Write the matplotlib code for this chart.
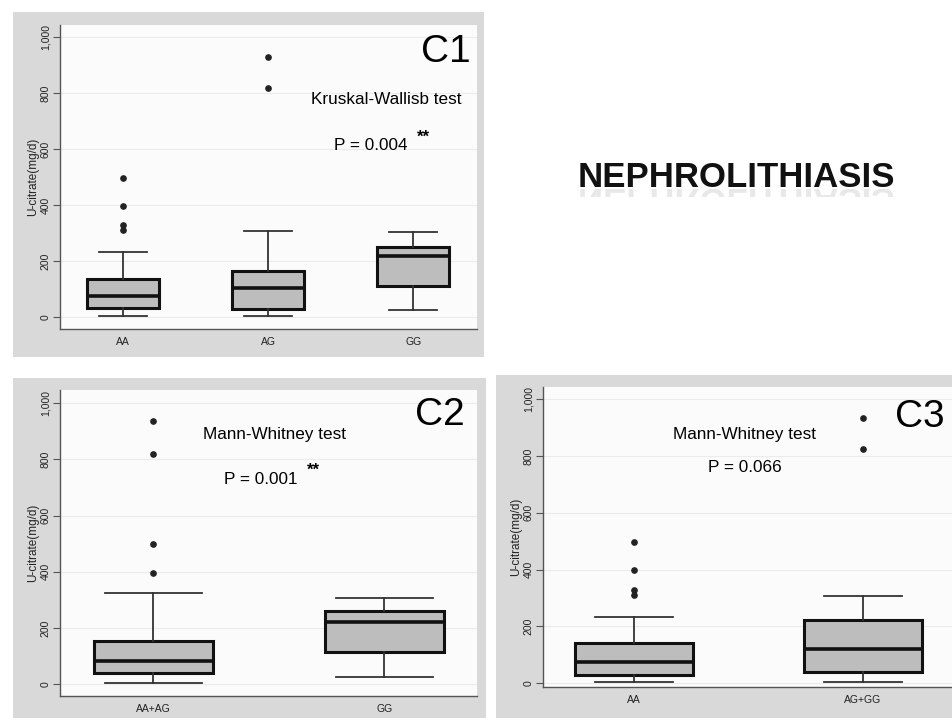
import matplotlib
matplotlib.use('Agg')
import matplotlib.pyplot as plt
from matplotlib.patches import Rectangle, PathPatch
from matplotlib.textpath import TextPath
from matplotlib.font_manager import FontProperties
from matplotlib.transforms import Affine2D

plt.rcParams['font.family'] = ['Liberation Sans', 'DejaVu Sans']

# ---------------- data ----------------
c1_groups = ['AA', 'AG', 'GG']
c1_q1 = [32, 29, 112]
c1_med = [74, 102, 217]
c1_q3 = [136, 165, 250]
c1_lo = [2, 2, 26]
c1_hi = [232, 306, 303]
c1_fliers = [[496, 395, 328, 312], [928, 818], []]

c2_groups = ['AA+AG', 'GG']
c2_q1 = [39, 113]
c2_med = [83, 221]
c2_q3 = [154, 259]
c2_lo = [4, 27]
c2_hi = [326, 305]
c2_fliers = [[935, 818, 498, 397], []]

c3_groups = ['AA', 'AG+GG']
c3_q1 = [29, 41]
c3_med = [74, 120]
c3_q3 = [141, 223]
c3_lo = [4, 4]
c3_hi = [235, 308]
c3_fliers = [[498, 399, 329, 311], [933, 823]]

y_ticks = [0, 200, 400, 600, 800, 1000]
y_ticklabels = ['0', '200', '400', '600', '800', '1,000']
y_label = 'U-citrate(mg/d)'

# ---------------- figure ----------------
W, H = 953, 718
fig = plt.figure(figsize=(W / 100, H / 100), dpi=100)
fig.patch.set_facecolor('white')

bg = fig.add_axes([0, 0, 1, 1], zorder=0)
bg.set_xlim(0, W)
bg.set_ylim(H, 0)
bg.axis('off')

# gray panel frames (pixel coords)
for (x0, y0, x1, y1) in [(13, 12, 484, 357), (13, 378, 486, 718), (496, 375, 953, 718)]:
    bg.add_patch(Rectangle((x0, y0), x1 - x0, y1 - y0, facecolor='#d9d9d9',
                           edgecolor='none'))


def px_axes(x0, y0, x1, y1):
    return fig.add_axes([x0 / W, 1 - y1 / H, (x1 - x0) / W, (y1 - y0) / H], zorder=2)


def draw_panel(rect, groups, q1, med, q3, lo, hi, fliers, xlim, ylim, width, capw):
    ax = px_axes(*rect)
    ax.set_facecolor('#fbfbfb')
    stats = []
    for i, g in enumerate(groups):
        stats.append(dict(label=g, q1=q1[i], med=med[i], q3=q3[i],
                          whislo=lo[i], whishi=hi[i], fliers=fliers[i]))
    ax.bxp(stats, positions=list(range(1, len(groups) + 1)), widths=width,
           capwidths=capw, patch_artist=True,
           boxprops=dict(facecolor='#bdbdbd', edgecolor='#111111', linewidth=2.2),
           medianprops=dict(color='#111111', linewidth=2.6),
           whiskerprops=dict(color='#333333', linewidth=1.3),
           capprops=dict(color='#333333', linewidth=1.3),
           flierprops=dict(marker='o', markerfacecolor='#222222',
                           markeredgecolor='#222222', markersize=3.8))
    ax.set_xlim(*xlim)
    ax.set_ylim(*ylim)
    ax.set_yticks(y_ticks)
    ax.set_yticklabels(y_ticklabels, rotation=90, va='center', fontsize=7.5,
                       color='#222222')
    ax.set_xticks(range(1, len(groups) + 1))
    ax.set_xticklabels(groups, fontsize=7.5, color='#222222')
    ax.tick_params(axis='y', length=5, width=0.8, color='#555555', pad=2)
    ax.tick_params(axis='x', length=0, pad=6)
    ax.yaxis.grid(True, color='#ebebeb', linewidth=0.8)
    ax.set_axisbelow(True)
    for s in ['top', 'right']:
        ax.spines[s].set_visible(False)
    for s in ['left', 'bottom']:
        ax.spines[s].set_color('#555555')
        ax.spines[s].set_linewidth(1.0)
    ax.set_ylabel(y_label, fontsize=8.5, labelpad=1, color='#222222')
    return ax


draw_panel((60, 25, 477, 329), c1_groups, c1_q1, c1_med, c1_q3, c1_lo, c1_hi,
           c1_fliers, (0.565, 3.44), (-43, 1043), 0.5, 0.33)
draw_panel((60, 390, 477, 696), c2_groups, c2_q1, c2_med, c2_q3, c2_lo, c2_hi,
           c2_fliers, (0.597, 2.40), (-42, 1047), 0.515, 0.42)
draw_panel((543, 387, 952, 687), c3_groups, c3_q1, c3_med, c3_q3, c3_lo, c3_hi,
           c3_fliers, (0.603, 2.39), (-13, 1043), 0.515, 0.34)


def ftext(x, y, s, **kw):
    fig.text(x / W, 1 - y / H, s, **kw)


# panel labels
ftext(446, 52, 'C1', fontsize=28, ha='center', va='center', zorder=5)
ftext(440, 415, 'C2', fontsize=28, ha='center', va='center', zorder=5)
ftext(920, 417, 'C3', fontsize=28, ha='center', va='center', zorder=5)

# test annotations
fs = 12.3
ftext(386, 99, 'Kruskal-Wallisb test', fontsize=fs, ha='center', va='center', zorder=5)
ftext(371, 146, 'P = 0.004', fontsize=fs, ha='center', va='center', zorder=5)
ftext(423, 137, '**', fontsize=12, ha='center', va='center', zorder=5, fontweight='bold')

ftext(275, 434, 'Mann-Whitney test', fontsize=fs, ha='center', va='center', zorder=5)
ftext(261, 479, 'P = 0.001', fontsize=fs, ha='center', va='center', zorder=5)
ftext(313, 470, '**', fontsize=12, ha='center', va='center', zorder=5, fontweight='bold')

ftext(745, 434, 'Mann-Whitney test', fontsize=fs, ha='center', va='center', zorder=5)
ftext(745, 467, 'P = 0.066', fontsize=fs, ha='center', va='center', zorder=5)

# title with faint reflection
top = fig.add_axes([0, 0, 1, 1], zorder=4)
top.set_xlim(0, W)
top.set_ylim(H, 0)
top.axis('off')
title = 'NEPHROLITHIASIS'
tsize = 25
top.text(578, 187, title, fontsize=tsize, fontweight='bold', ha='left',
         va='baseline', color='#111111')
tp = TextPath((0, 0), title, size=tsize * 100 / 72,
              prop=FontProperties(family='Liberation Sans', weight='bold'))
path = Affine2D().translate(578, 189).transform_path(tp)
refl = PathPatch(path, facecolor='#999999', edgecolor='none', alpha=0.22)
top.add_patch(refl)
clip = Rectangle((560, 189), 360, 8, transform=top.transData)
refl.set_clip_path(clip)

fig.savefig('out.png', dpi=100, facecolor='white')
